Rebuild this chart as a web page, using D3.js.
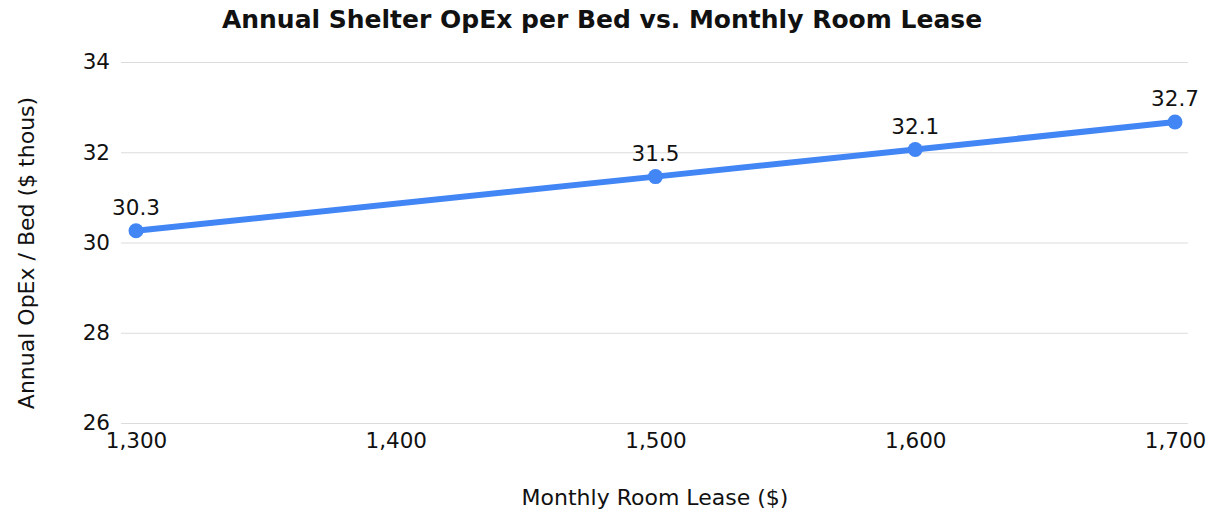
<!DOCTYPE html>
<html>
<head>
<meta charset="utf-8">
<script src="https://cdn.jsdelivr.net/npm/d3@7"></script>
<style>
  body { margin: 0; background: #fff; }
  text { font-family: 'DejaVu Sans', Verdana, sans-serif; fill: #111; }
</style>
</head>
<body>
<div id="chart"></div>
<script>
// chart data
const leases = [1300, 1500, 1600, 1700]
const opex = [30.26, 31.46, 32.06, 32.67]
const xTicks = [1300, 1400, 1500, 1600, 1700]
const yTicks = [26, 28, 30, 32, 34]

const width = 1209
const height = 512

const svg = d3.select('#chart')
  .append('svg')
  .attr('width', width)
  .attr('height', height)

const xPositionScale = d3.scaleLinear()
  .domain([1300, 1700])
  .range([136, 1175])

const yPositionScale = d3.scaleLinear()
  .domain([26, 34])
  .range([423, 62])

const gridLeft = 121
const gridRight = 1188

// gridlines + y labels
const yAxis = d3.axisLeft(yPositionScale)
  .tickValues(yTicks)
  .tickSize(-(gridRight - gridLeft))
  .tickPadding(11)
  .tickFormat(d3.format('d'))

svg.append('g')
  .attr('class', 'axis y-axis')
  .attr('transform', 'translate(' + gridLeft + ',0)')
  .call(yAxis)
  .call(g => g.select('.domain').remove())
  .call(g => g.selectAll('line').attr('stroke', '#dcdcdc').attr('stroke-width', 1))
  .call(g => g.selectAll('text').attr('font-size', 21.5).attr('fill', '#111'))

const xAxis = d3.axisBottom(xPositionScale)
  .tickValues(xTicks)
  .tickSize(0)
  .tickPadding(10)
  .tickFormat(d3.format(','))

svg.append('g')
  .attr('class', 'axis x-axis')
  .attr('transform', 'translate(0,' + 423 + ')')
  .call(xAxis)
  .call(g => g.select('.domain').remove())
  .call(g => g.selectAll('text').attr('font-size', 21.5).attr('fill', '#111'))

const points = leases.map((d, i) => ({ x: d, y: opex[i] }))

const line = d3.line()
  .x(d => xPositionScale(d.x))
  .y(d => yPositionScale(d.y))

svg.append('path')
  .datum(points)
  .attr('d', line)
  .attr('fill', 'none')
  .attr('stroke', '#4285f4')
  .attr('stroke-width', 6)
  .attr('stroke-linejoin', 'round')

svg.selectAll('.dot')
  .data(points)
  .enter().append('circle')
  .attr('class', 'dot')
  .attr('r', 7.5)
  .attr('fill', '#4285f4')
  .attr('cx', d => xPositionScale(d.x))
  .attr('cy', d => yPositionScale(d.y))

svg.selectAll('.label')
  .data(points)
  .enter().append('text')
  .attr('class', 'label')
  .attr('x', d => xPositionScale(d.x))
  .attr('y', d => yPositionScale(d.y) - 16)
  .attr('text-anchor', 'middle')
  .attr('font-size', 21.5)
  .text(d => d.y.toFixed(1))

// titles
svg.append('text')
  .attr('x', 602)
  .attr('y', 28)
  .attr('text-anchor', 'middle')
  .attr('font-size', 25)
  .attr('font-weight', 'bold')
  .text('Annual Shelter OpEx per Bed vs. Monthly Room Lease')

svg.append('text')
  .attr('x', 655)
  .attr('y', 505)
  .attr('text-anchor', 'middle')
  .attr('font-size', 22)
  .text('Monthly Room Lease ($)')

svg.append('text')
  .attr('transform', 'translate(34,253) rotate(-90)')
  .attr('text-anchor', 'middle')
  .attr('font-size', 22)
  .text('Annual OpEx / Bed ($ thous)')
</script>
</body>
</html>
